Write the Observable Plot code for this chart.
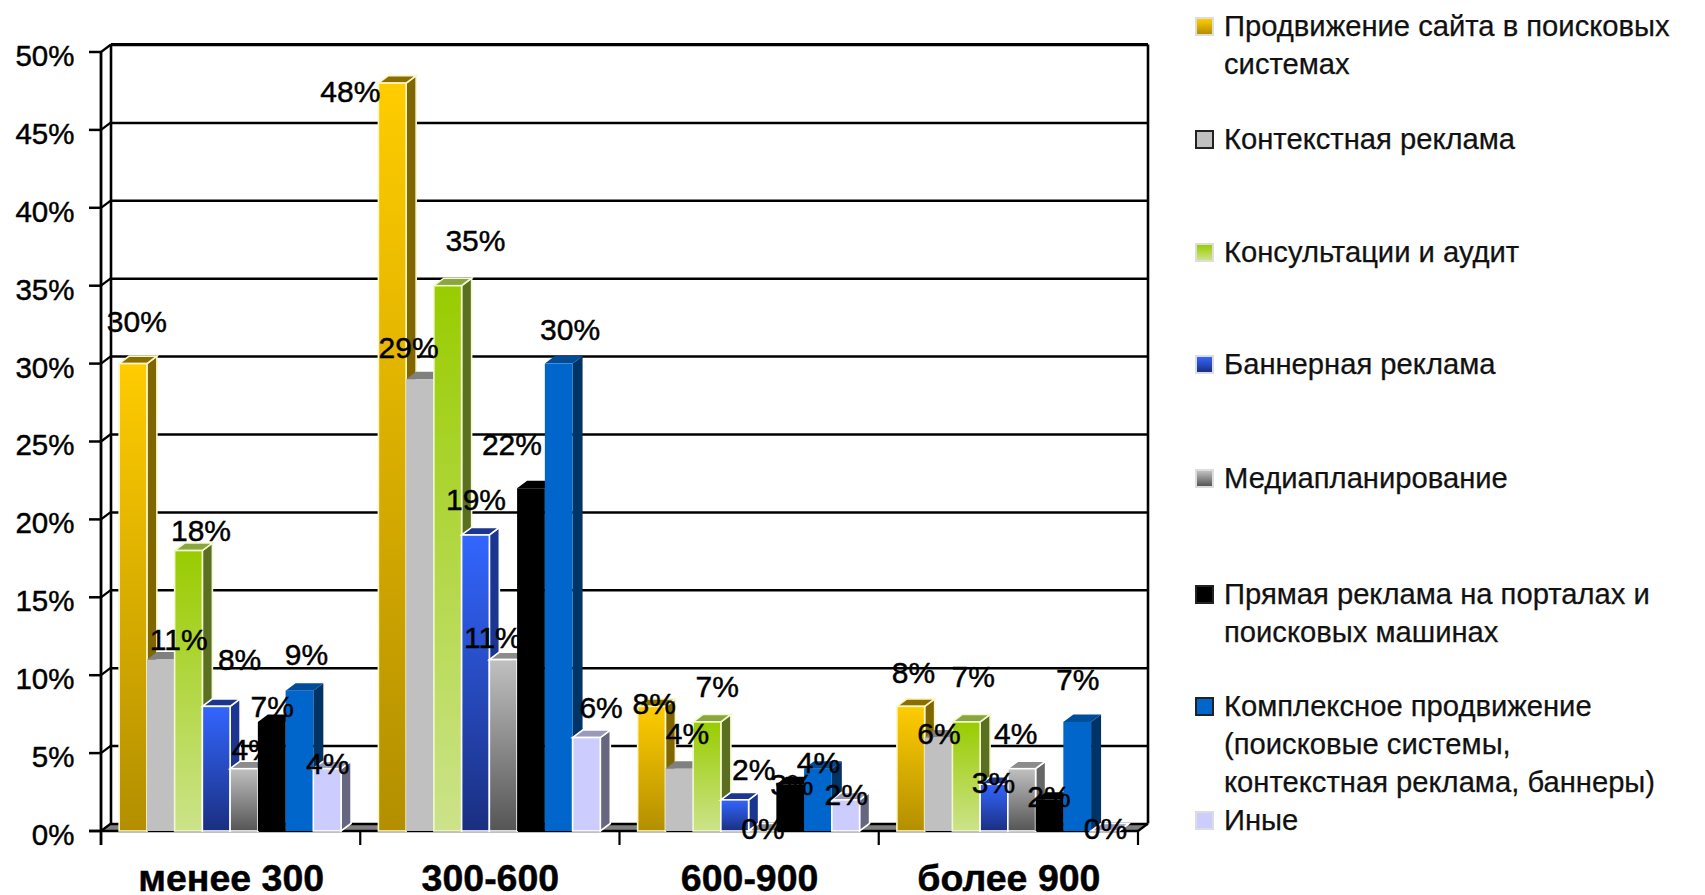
<!DOCTYPE html>
<html><head><meta charset="utf-8">
<script src="https://cdn.jsdelivr.net/npm/d3@7"></script>
<script src="https://cdn.jsdelivr.net/npm/@observablehq/plot@0.6"></script>
<style>
html,body{margin:0;padding:0;background:#fff;width:1705px;height:895px;overflow:hidden;position:relative;font-family:"Liberation Sans",Arial,sans-serif}
svg{display:block}
svg text{stroke:#000;stroke-width:.45px}
.lg{position:absolute;left:1195px;display:flex;align-items:flex-start;color:#111;font-size:29.2px;line-height:38px;white-space:pre;-webkit-text-stroke:.25px #111}
.sw{width:15px;height:15px;margin:10px 10px 0 0;border:2px solid #ddd;flex:none}
</style></head><body>
<div id="chart"></div>
<script>
const groups = ["менее 300", "300-600", "600-900", "более 900"];
const legendLabels = [
  "Продвижение сайта в поисковых\nсистемах",
  "Контекстная реклама",
  "Консультации и аудит",
  "Баннерная реклама",
  "Медиапланирование",
  "Прямая реклама на порталах и\nпоисковых машинах",
  "Комплексное продвижение\n(поисковые системы,\nконтекстная реклама, баннеры)",
  "Иные"
];
const series = legendLabels.map(s => s.replace(/\n/g, " "));
const values = [
  [30, 11, 18, 8, 4, 7, 9, 4],
  [48, 29, 35, 19, 11, 22, 30, 6],
  [8, 4, 7, 2, 0, 3, 4, 2],
  [8, 6, 7, 3, 4, 2, 7, 0]
];
const yTicks = [0, 5, 10, 15, 20, 25, 30, 35, 40, 45, 50];

// label nudges relative to bar centre / bar top, as measured on the picture
const labelNudgeX = [
  [3, 16, 11, 21, 8, 0, 6, 0],
  [-39, -11, 25, 0, -10, -18, 10, 13],
  [2, 7, 9, 17, 0, 1, 0, 0],
  [2, 0, 6, -1, -6, -1, 0, 0]
];
const labelNudgeY = [
  [-38, -18.5, -18, -43, -17, -14, -33, -4],
  [8, -29, -41, -32, -20, -40, -31, -27],
  [-2, -32, -32, -28, -2, 1, -5, -5],
  [-31, -3, -41, -1, -32, -3, -39, -2]
];
const K = 1705 / 1568;

// styles per series: gradient top, gradient bottom, side face, outline
const gradTop = ["#FFCC00", "#C0C0C0", "#99CC00", "#3366FF", "#C0C0C0", "#000000", "#0066CC", "#CCCCFF"];
const gradBot = ["#B38F00", "#C0C0C0", "#CCE38A", "#1A2F80", "#555555", "#000000", "#0066CC", "#CCCCFF"];
const sideFill = ["#7F6600", "#808080", "#5A6F1F", "#1C3590", "#666666", "#000000", "#003366", "#666680"];
const topFill = ["#8A6F00", "#808080", "#8AA640", "#1C3590", "#8C8C8C", "#000000", "#004C99", "#9999BB"];
const outline = ["#FBF6C8", "none", "#F3F8D0", "#FFFFFF", "#FFFFFF", "none", "none", "#FFFFFF"];
const legendTop = [7, 120, 233, 345, 459, 575, 687, 801];

// bars inside a category, as a share of the category's width
const BAR = 0.107, PAD = 0.07;
const DX = 10, DY = -7.5;
const table = [];
groups.forEach((g, gi) => series.forEach((s, si) => table.push({
  group: g, series: s, si, value: values[gi][si],
  x1: gi + PAD + si * BAR, x2: gi + PAD + (si + 1) * BAR, xc: gi + PAD + (si + 0.5) * BAR,
  nx: labelNudgeX[gi][si] * K, ny: labelNudgeY[gi][si] * K
})));

const NS = "http://www.w3.org/2000/svg";
function poly(points, fill, stroke) {
  const p = document.createElementNS(NS, "polygon");
  p.setAttribute("points", points.map(d => d.join(",")).join(" "));
  p.setAttribute("fill", fill);
  if (stroke !== "none") { p.setAttribute("stroke", stroke); p.setAttribute("stroke-width", 1.6); }
  return p;
}
function line(x1, y1, x2, y2, w) {
  const l = document.createElementNS(NS, "line");
  for (const [k, v] of Object.entries({x1, y1, x2, y2})) l.setAttribute(k, v);
  l.setAttribute("stroke", "#000");
  l.setAttribute("stroke-width", w);
  return l;
}

function bars3d(index, scales, vals, dims, ctx, next) {
  const g = next(index, scales, vals, dims, ctx);
  const rects = [...g.querySelectorAll("rect")];
  rects.forEach((r, k) => {
    const si = table[index[k]].si;
    const x = +r.getAttribute("x"), y = +r.getAttribute("y");
    const w = +r.getAttribute("width"), h = +r.getAttribute("height");
    const st = outline[si];
    const side = poly([[x + w, y], [x + w + DX, y + DY], [x + w + DX, y + h + DY], [x + w, y + h]], sideFill[si], st);
    const top = poly([[x, y], [x + DX, y + DY], [x + w + DX, y + DY], [x + w, y]], topFill[si], st);
    r.parentNode.insertBefore(side, r);
    r.parentNode.insertBefore(top, r);
    if (st !== "none") { r.setAttribute("stroke", st); r.setAttribute("stroke-width", 1.6); }
  });
  return g;
}

function floorLayer(index, {x, y}) {
  const g = document.createElementNS(NS, "g");
  const l = x(0), r = x(groups.length), y0 = y(0);
  g.appendChild(poly([[l, y0], [l + DX, y0 + DY], [r + DX, y0 + DY], [r, y0]], "#808080", "none"));
  return g;
}

function wallLayer(index, {x, y}) {
  const g = document.createElementNS(NS, "g");
  const l = x(0), r = x(groups.length), y0 = y(0), y1 = y(50);
  g.appendChild(line(l + DX, y1 + DY, r + DX, y1 + DY, 2.8));
  g.appendChild(line(l + DX, y0 + DY, l + DX, y1 + DY, 2.6));
  g.appendChild(line(r + DX, y0 + DY, r + DX, y1 + DY, 2.6));
  g.appendChild(line(r, y0, r + DX, y0 + DY, 2.2));
  yTicks.forEach(t => {
    g.appendChild(line(l - 12, y(t), l, y(t), 2.5));
    g.appendChild(line(l, y(t), l + DX, y(t) + DY, 2.2));
  });
  g.appendChild(line(l, y0 + 14, l, y1, 2.8));
  g.appendChild(line(l - 12, y0, r, y0, 2.6));
  groups.forEach((d, i) => g.appendChild(line(x(i + 1), y0, x(i + 1), y0 + 14, 2.2)));
  return g;
}

const plot = Plot.plot({
  width: 1705, height: 895,
  marginLeft: 101, marginRight: 567, marginTop: 52, marginBottom: 64,
  style: {fontFamily: "'Liberation Sans',Arial,sans-serif", background: "#fff", color: "#000"},
  x: {domain: [0, groups.length], axis: null},
  y: {domain: [0, 50], axis: null},
  color: {domain: series, range: series.map((_, i) => `url(#g${i})`)},
  marks: [
    floorLayer,
    Plot.ruleY(yTicks, {dx: DX, dy: DY, stroke: "#000", strokeWidth: 2.5}),
    Plot.axisY({ticks: yTicks, tickFormat: d => d + "%", label: null, tickSize: 0, tickPadding: 27, fontSize: 29.5, dy: 4}),
    Plot.axisX({ticks: groups.map((_, i) => i + 0.5), tickFormat: d => groups[d - 0.5], label: null, tickSize: 0, tickPadding: 33, fontSize: 37.5, fontWeight: "bold"}),
    wallLayer,
    Plot.rectY(table, {x1: "x1", x2: "x2", y1: 0, y2: "value", fill: "series", render: bars3d}),
    ...table.map(d => Plot.text([d], {
      x: "xc", y: "value", text: v => v.value + "%",
      dx: d.nx, dy: d.ny, fontSize: 30, fill: "#000"
    }))
  ]
});

// gradients used by the colour scale
const defs = document.createElementNS(NS, "defs");
series.forEach((_, i) => {
  const lg = document.createElementNS(NS, "linearGradient");
  lg.setAttribute("id", "g" + i);
  lg.setAttribute("x1", 0); lg.setAttribute("y1", 0); lg.setAttribute("x2", 0); lg.setAttribute("y2", 1);
  [[0, gradTop[i]], [1, gradBot[i]]].forEach(([o, c]) => {
    const s = document.createElementNS(NS, "stop");
    s.setAttribute("offset", o); s.setAttribute("stop-color", c);
    lg.appendChild(s);
  });
  defs.appendChild(lg);
});
plot.insertBefore(defs, plot.firstChild);
document.getElementById("chart").appendChild(plot);

legendLabels.forEach((t, i) => {
  const row = document.createElement("div");
  row.className = "lg";
  row.style.top = legendTop[i] + "px";
  const sw = document.createElement("span");
  sw.className = "sw";
  sw.style.background = `linear-gradient(${gradTop[i]},${gradBot[i]})`;
  sw.style.borderColor = outline[i] === "none" ? "#222" : "#ddd";
  const tx = document.createElement("span");
  tx.textContent = t;
  row.append(sw, tx);
  document.body.appendChild(row);
});
</script>
</body></html>
